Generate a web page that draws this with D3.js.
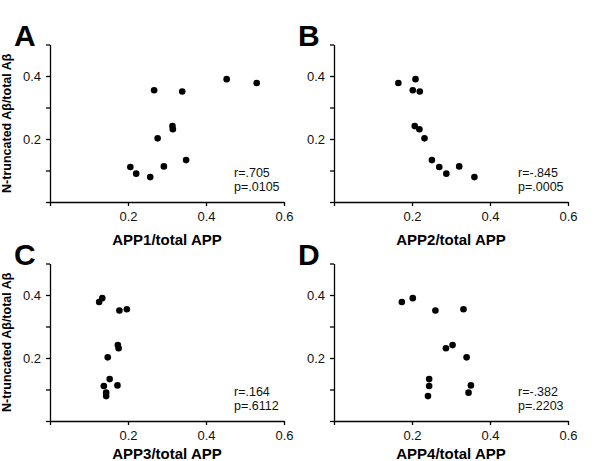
<!DOCTYPE html>
<html>
<head>
<meta charset="utf-8">
<script src="https://cdn.jsdelivr.net/npm/d3@7"></script>
<style>
    body { margin: 0; background: #fff; }
    svg { font-family: 'Liberation Sans', Arial, sans-serif; }
</style>
</head>
<body>
<svg id="svg0" width="600" height="461"></svg>
<script>

// N-truncated Abeta / total Abeta, one value per subject (same subjects in every panel)
var ratioAb = [0.111, 0.090, 0.079, 0.355, 0.202, 0.113, 0.241, 0.231, 0.351, 0.133, 0.390, 0.378];

// APP isoform fractions for the same subjects
var app1 = [0.206, 0.221, 0.257, 0.267, 0.276, 0.292, 0.314, 0.315, 0.339, 0.349, 0.453, 0.530];
var app2 = [0.270, 0.288, 0.360, 0.202, 0.232, 0.321, 0.207, 0.219, 0.220, 0.251, 0.209, 0.165];
var app3 = [0.138, 0.144, 0.144, 0.197, 0.148, 0.173, 0.174, 0.176, 0.178, 0.153, 0.134, 0.126];
var app4 = [0.244, 0.345, 0.241, 0.332, 0.340, 0.351, 0.304, 0.287, 0.260, 0.244, 0.202, 0.174];

var panelLetters = ['A', 'B', 'C', 'D'];
var xTitles = ['APP1/total APP', 'APP2/total APP', 'APP3/total APP', 'APP4/total APP'];
var rLabels = ['r=.705', 'r=-.845', 'r=.164', 'r=-.382'];
var pLabels = ['p=.0105', 'p=.0005', 'p=.6112', 'p=.2203'];
var xTicks = [0, 0.2, 0.4, 0.6];
var yTicks = [0, 0.1, 0.2, 0.3, 0.4, 0.5];
var yTitle = 'N-truncated A\u03b2/total A\u03b2';

var xSets = [app1, app2, app3, app4];

var plotW = 234;
var plotH = 157.5;

//left edge and bottom edge (x axis) of every panel
var panelLeft = [50, 334, 50, 334];
var panelBottom = [202, 202, 421, 421];
var titleGap = [43, 43, 38, 38];

var svg0 = d3.select('#svg0');

function drawPanel(i) {
    var x = d3.scaleLinear().domain([0, 0.6]).range([0, plotW]);
    var y = d3.scaleLinear().domain([0, 0.5]).range([plotH, 0]);

    var g = svg0.append('g')
        .attr('transform', 'translate(' + panelLeft[i] + ',' + (panelBottom[i] - plotH) + ')');

    var xAxis = d3.axisBottom(x)
        .tickValues(xTicks)
        .tickSize(4)
        .tickSizeOuter(0)
        .tickPadding(6)
        .tickFormat(function(d){ return d === 0 ? '' : d3.format('.1f')(d); });

    var yAxis = d3.axisLeft(y)
        .tickValues(yTicks)
        .tickSize(4)
        .tickSizeOuter(0)
        .tickPadding(5)
        .tickFormat(function(d){ return (Math.abs(d - 0.2) < 1e-9 || Math.abs(d - 0.4) < 1e-9) ? d3.format('.1f')(d) : ''; });

    var gx = g.append('g')
        .attr('transform', 'translate(0,' + plotH + ')')
        .call(xAxis);
    var gy = g.append('g').call(yAxis);

    [gx, gy].forEach(function(a){
        a.select('.domain').attr('stroke', '#000').attr('stroke-width', 1.3);
        a.selectAll('.tick line').attr('stroke', '#000').attr('stroke-width', 1.3);
        a.selectAll('.tick text')
            .attr('fill', '#111')
            .style('font-size', '13px')
            .style('font-family', "'Liberation Sans', Arial, sans-serif");
    });

    var pts = xSets[i].map(function(v, k){ return {x: v, y: ratioAb[k]}; });

    g.selectAll('circle')
        .data(pts)
        .enter()
        .append('circle')
        .attr('cx', function(d){ return x(d.x); })
        .attr('cy', function(d){ return y(d.y); })
        .attr('r', 3.3)
        .attr('fill', '#000');

    // stats text, lower right
    g.append('text')
        .attr('x', 184)
        .attr('y', plotH - 25)
        .style('font-size', '12.5px')
        .attr('fill', '#111')
        .text(rLabels[i]);
    g.append('text')
        .attr('x', 184)
        .attr('y', plotH - 11)
        .style('font-size', '12.5px')
        .attr('fill', '#111')
        .text(pLabels[i]);

    // x axis title
    g.append('text')
        .attr('x', plotW / 2)
        .attr('y', plotH + titleGap[i])
        .attr('text-anchor', 'middle')
        .style('font-size', '15px')
        .style('font-weight', 'bold')
        .text(xTitles[i]);

    // panel letter
    svg0.append('text')
        .attr('x', panelLeft[i] - 36)
        .attr('y', panelBottom[i] - plotH + 1)
        .style('font-size', '30px')
        .style('font-weight', 'bold')
        .text(panelLetters[i]);

    // y title only on the left column
    if (i % 2 === 0) {
        svg0.append('text')
            .attr('transform', 'translate(11,' + (panelBottom[i] - plotH / 2) + ') rotate(-90)')
            .attr('text-anchor', 'middle')
            .style('font-size', '12.5px')
            .style('font-weight', 'bold')
            .text(yTitle);
    }
}

for (var i = 0; i < 4; i++) {
    drawPanel(i);
}

</script>
</body>
</html>
